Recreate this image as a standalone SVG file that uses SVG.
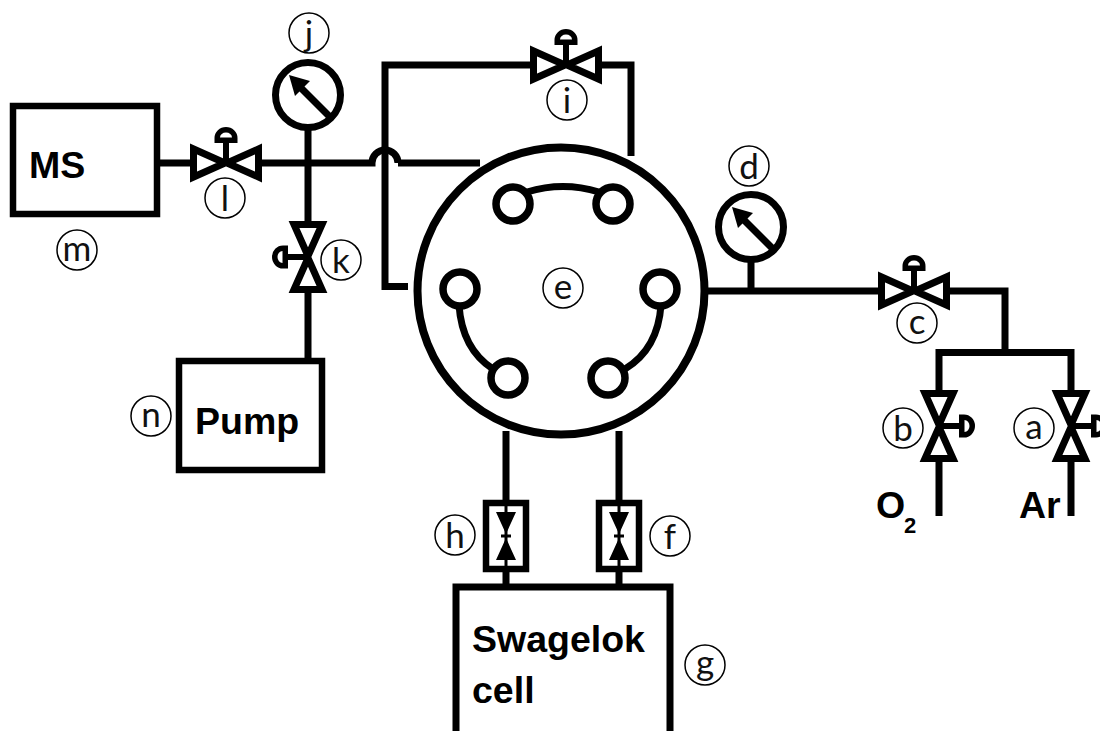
<svg xmlns="http://www.w3.org/2000/svg" width="1100" height="731" viewBox="0 0 1100 731">
<style>
.l{fill:none;stroke:#000;stroke-width:7;stroke-linecap:butt;stroke-linejoin:miter}
.t{fill:none;stroke:#000;stroke-width:7;stroke-linejoin:miter;stroke-miterlimit:8}
.c{fill:#fff;stroke:#000;stroke-width:1.5}
.lt{font-family:"Lato","Open Sans",sans-serif;font-size:35px;fill:#111;text-anchor:middle}
.b{font-family:"Liberation Sans",Arial,sans-serif;font-weight:bold;fill:#000;font-size:37.500px}
</style>
<defs>
<g id="valve">
<path class="t" d="M-32.500-14V14L-1 0ZM32.500-14V14L1 0Z"/>
<path d="M-3-22H3V0H-3Z"/>
<path d="M-11.500-20V-25A11.500 11 0 0 1 11.500-25V-20ZM-6-25.500H6A6 5 0 0 0-6-25.500Z" fill-rule="evenodd"/>
</g>
<g id="gauge">
<circle r="32.500" fill="#fff" stroke="#000" stroke-width="7"/>
<path d="M-11-11L23 23" stroke="#000" stroke-width="7"/>
<path d="M-19-20L2-14L-13 1Z"/>
</g>
<g id="meter">
<rect x="-20" y="-33" width="40" height="66" fill="#fff" stroke="#000" stroke-width="6.500"/>
<path d="M-10-24H10L0-2ZM-10 24H10L0 2Z"/>
<path d="M-5-1.500H5V1.500H-5Z"/>
<path d="M-1.500-36H1.500V36H-1.500Z"/>
</g>
</defs>
<rect width="1100" height="731" fill="#fff"/>
<g id="connectors">
<path class="l" d="M158 163H192M260 163H372A13 13 0 0 1 398 163M398 163H480"/>
<path class="l" d="M308 128V225M308 290V362"/>
<path class="l" d="M385 65V286.500H408M381.500 65H532M602 65H631V156"/>
<path class="l" d="M706 291H882M946 291H1005V352M751 260V291"/>
<path class="l" d="M939 352.500H1071M939 349V392M1071 349V392M939 460V516M1071 460V516"/>
<path class="l" d="M506 431V503M619 431V503M506 569V588M619 569V588"/>
<path class="l" d="M527 192Q563 181 599 192"/>
<path class="l" d="M459 305Q462 349 493 369"/>
<path class="l" d="M661 305Q658 349 625 369"/>
</g>
<g id="node-m"><rect x="13" y="106" width="144" height="108" fill="#fff" stroke="#000" stroke-width="6.500"/><text class="b" x="29" y="178">MS</text></g>
<g id="node-n"><rect x="179" y="361" width="143" height="109" fill="none" stroke="#000" stroke-width="6.500"/><text class="b" x="195" y="434">Pump</text></g>
<g id="node-g"><path d="M456 731V587H670V731" fill="none" stroke="#000" stroke-width="7"/><text class="b" x="472" y="652">Swagelok</text><text class="b" x="472" y="703">cell</text></g>
<g id="node-e">
<circle cx="561" cy="291" r="143.500" fill="none" stroke="#000" stroke-width="8"/>
<circle cx="513" cy="204" r="17" fill="#fff" stroke="#000" stroke-width="7.500"/>
<circle cx="613" cy="204" r="17" fill="#fff" stroke="#000" stroke-width="7.500"/>
<circle cx="460" cy="289" r="17" fill="#fff" stroke="#000" stroke-width="7.500"/>
<circle cx="660" cy="289" r="17" fill="#fff" stroke="#000" stroke-width="7.500"/>
<circle cx="508" cy="378" r="17" fill="#fff" stroke="#000" stroke-width="7.500"/>
<circle cx="608" cy="378" r="17" fill="#fff" stroke="#000" stroke-width="7.500"/>
</g>
<g id="valve-l"><use href="#valve" transform="translate(226 163)"/></g>
<g id="valve-i"><use href="#valve" transform="translate(566 65)"/></g>
<g id="valve-c"><use href="#valve" transform="translate(914 291)"/></g>
<g id="valve-k"><use href="#valve" transform="translate(308 257) rotate(-90)"/></g>
<g id="valve-b"><use href="#valve" transform="translate(939 426) rotate(90)"/></g>
<g id="valve-a"><use href="#valve" transform="translate(1071 426) rotate(90)"/></g>
<g id="gauge-j"><use href="#gauge" transform="translate(308 95)"/></g>
<g id="gauge-d"><use href="#gauge" transform="translate(751 227)"/></g>
<g id="meter-h"><use href="#meter" transform="translate(506 536)"/></g>
<g id="meter-f"><use href="#meter" transform="translate(619 536)"/></g>
<g id="gas-o2"><text class="b" x="876" y="518">O</text><text class="b" x="904" y="533" style="font-size:22px">2</text></g>
<g id="gas-ar"><text class="b" x="1019" y="518">Ar</text></g>
<g id="label-a"><circle class="c" cx="1034" cy="428" r="20"/><text class="lt" x="1034" y="439">a</text></g>
<g id="label-b"><circle class="c" cx="903" cy="428" r="20"/><text class="lt" x="903" y="441">b</text></g>
<g id="label-c"><circle class="c" cx="917" cy="323" r="20"/><text class="lt" x="917" y="334">c</text></g>
<g id="label-d"><circle class="c" cx="749" cy="166" r="20"/><text class="lt" x="749" y="179">d</text></g>
<g id="label-e"><circle class="c" cx="563" cy="288" r="20"/><text class="lt" x="563" y="299">e</text></g>
<g id="label-f"><circle class="c" cx="670" cy="536" r="20"/><text class="lt" x="670" y="549">f</text></g>
<g id="label-g"><circle class="c" cx="705" cy="665" r="20"/><text class="lt" x="705" y="675">g</text></g>
<g id="label-h"><circle class="c" cx="455" cy="535" r="20"/><text class="lt" x="455" y="548">h</text></g>
<g id="label-i"><circle class="c" cx="567" cy="100" r="20"/><text class="lt" x="567" y="113">i</text></g>
<g id="label-j"><circle class="c" cx="309" cy="33" r="20"/><text class="lt" x="309" y="46">j</text></g>
<g id="label-k"><circle class="c" cx="341" cy="260" r="20"/><text class="lt" x="341" y="273">k</text></g>
<g id="label-l"><circle class="c" cx="225" cy="198" r="20"/><text class="lt" x="225" y="211">l</text></g>
<g id="label-m"><circle class="c" cx="77" cy="250" r="20"/><text class="lt" x="77" y="261">m</text></g>
<g id="label-n"><circle class="c" cx="151" cy="416" r="20"/><text class="lt" x="151" y="427">n</text></g>
</svg>
